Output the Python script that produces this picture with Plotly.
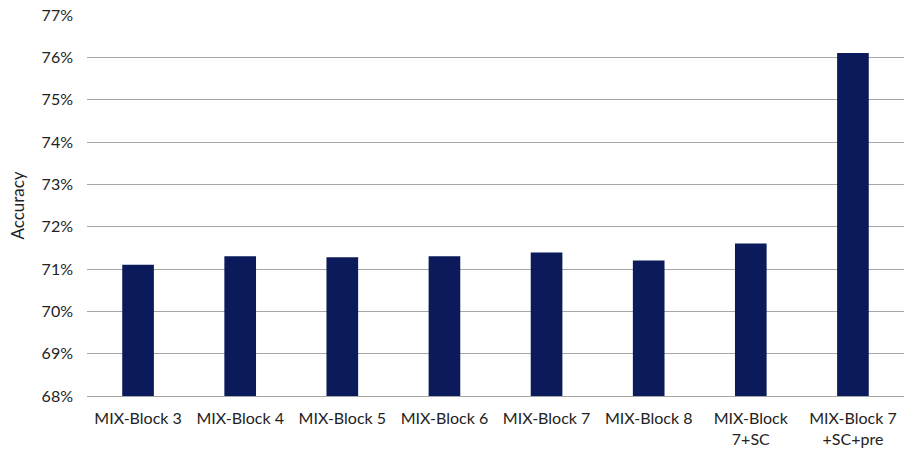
import plotly.graph_objects as go

# Model variants and their accuracy (%)
categories = [
    "MIX-Block 3", "MIX-Block 4", "MIX-Block 5", "MIX-Block 6",
    "MIX-Block 7", "MIX-Block 8", "MIX-Block<br>7+SC", "MIX-Block 7<br>+SC+pre",
]
accuracy = [71.1, 71.3, 71.28, 71.3, 71.39, 71.2, 71.6, 76.1]
y_ticks = [68, 69, 70, 71, 72, 73, 74, 75, 76, 77]

fig = go.Figure(
    go.Bar(
        x=categories,
        y=accuracy,
        marker=dict(color="#0b1a5b", line=dict(width=0)),
    )
)

fig.update_layout(
    width=904,
    height=455,
    margin=dict(l=87, r=0, t=15, b=59),
    paper_bgcolor="white",
    plot_bgcolor="white",
    bargap=0.69,
    showlegend=False,
    font=dict(family="Lato, Open Sans, sans-serif", size=16, color="#222222"),
)

fig.update_yaxes(
    range=[68, 77],
    tickvals=y_ticks,
    ticktext=[f"{v}%" for v in y_ticks],
    showgrid=True,
    gridcolor="#a6a6a6",
    gridwidth=1.3,
    zeroline=False,
    showline=False,
    ticklabelstandoff=13,
    title=dict(text="Accuracy", standoff=12, font=dict(size=17)),
)

fig.update_xaxes(
    showline=True,
    linecolor="#a6a6a6",
    linewidth=1.3,
    ticklabelstandoff=8,
    tickangle=0,
)

fig.write_html("out.html")
